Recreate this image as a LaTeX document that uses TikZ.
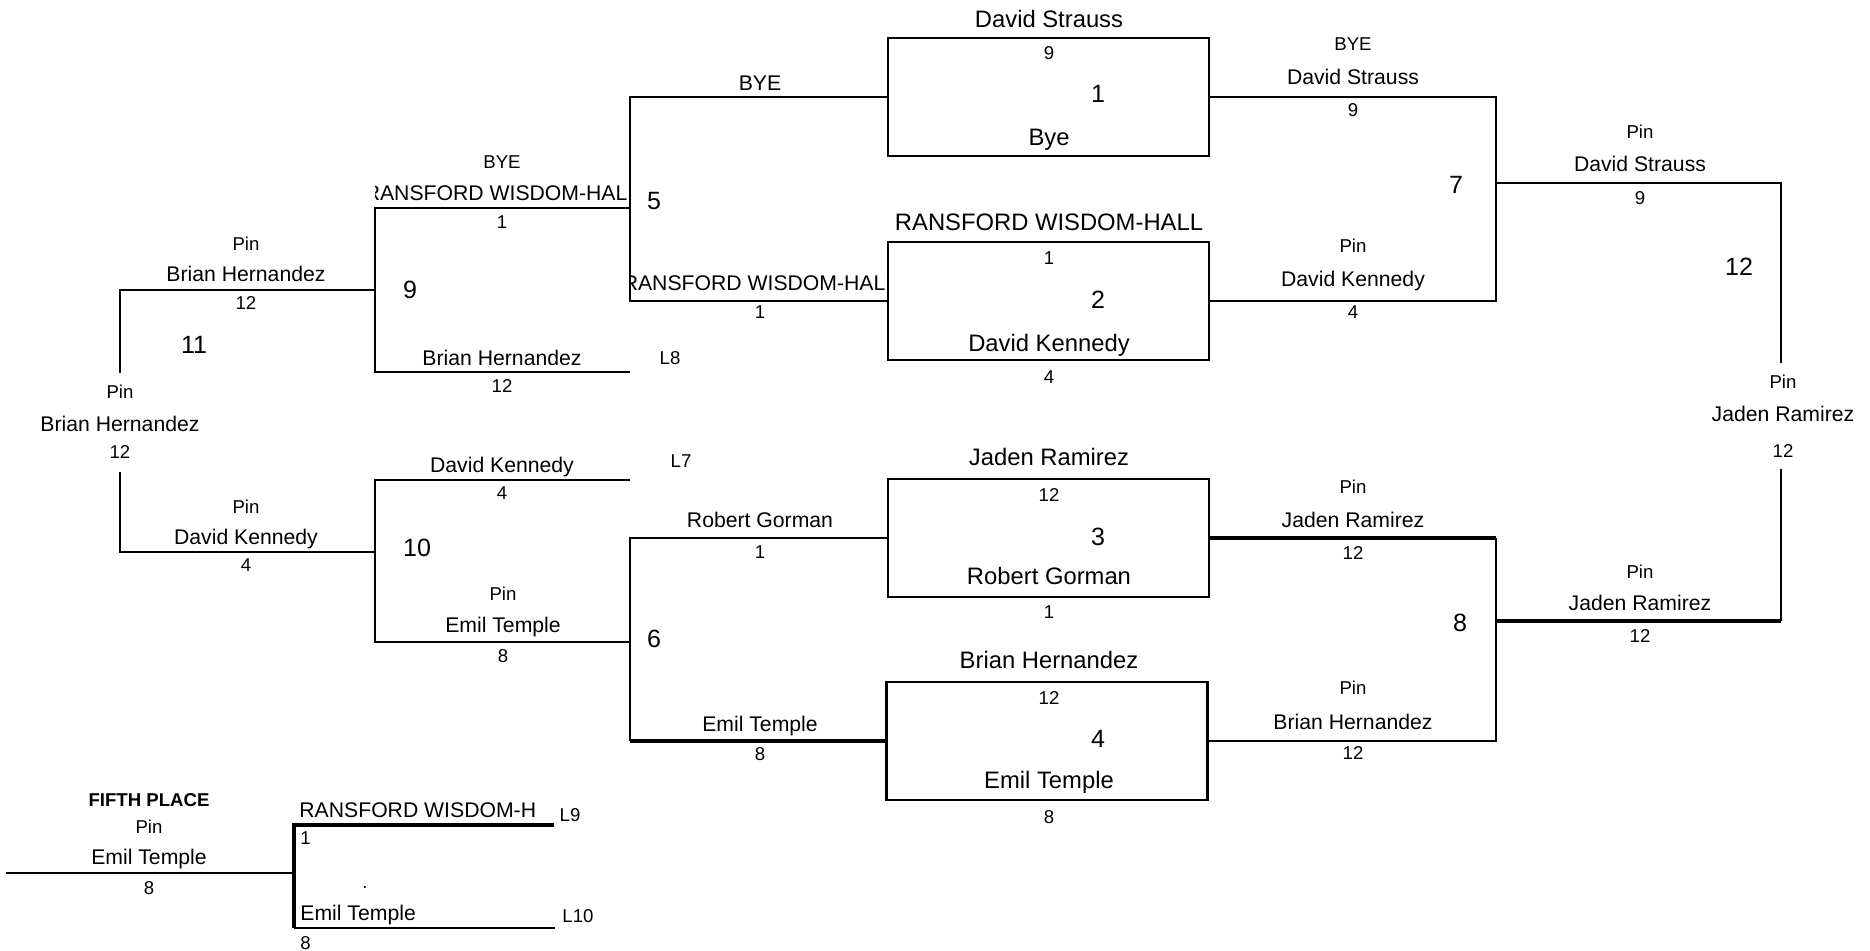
\documentclass[tikz,border=0pt]{standalone}
\usepackage{fontspec}
\setmainfont{Liberation Sans}

\begin{document}
\begin{tikzpicture}[
    x=0.5pt, y=-0.5pt,
    lbl/.style={inner sep=0pt, anchor=center, text depth=0pt},
    small/.style={lbl, font=\fontsize{9.3}{11}\selectfont, text height=6.7pt},
    wname/.style={lbl, font=\fontsize{10.6}{12}\selectfont, text height=7.6pt},
    boxname/.style={lbl, font=\fontsize{11.9}{14}\selectfont, text height=8.5pt},
    num/.style={lbl, font=\fontsize{12.5}{15}\selectfont, text height=9pt},
    matchbox/.style={rectangle, draw, line width=1.3pt, minimum width=160.5pt, minimum height=59pt, inner sep=0pt},
    bline/.style={line width=1.4pt},
    heavy/.style={line width=1.7pt}
]
\useasboundingbox (0,0) rectangle (1870,951);

% Championship boxes
\node[matchbox] (box1) at (1048.5,97) {};
\node[matchbox] (box2) at (1048.5,301) {};
\node[matchbox] (box3) at (1048.5,538) {};
\node[matchbox] (box4) at (1047,741) {};

% Box contents
\node[boxname] (b1top) at (1049,19) {David Strauss};
\node[small] (b1s1) at (1049,53) {9};
\node[num] (b1num) at (1098,94) {1};
\node[boxname] (b1bot) at (1049,137) {Bye};

\node[boxname] (b2top) at (1049,222) {RANSFORD WISDOM-HALL};
\node[small] (b2s1) at (1049,258) {1};
\node[num] (b2num) at (1098,300) {2};
\node[boxname] (b2bot) at (1049,343) {David Kennedy};
\node[small] (b2s2) at (1049,377) {4};

\node[boxname] (b3top) at (1049,457) {Jaden Ramirez};
\node[small] (b3s1) at (1049,495) {12};
\node[num] (b3num) at (1098,537) {3};
\node[boxname] (b3bot) at (1049,576) {Robert Gorman};
\node[small] (b3s2) at (1049,612) {1};

\node[boxname] (b4top) at (1049,660) {Brian Hernandez};
\node[small] (b4s1) at (1049,698) {12};
\node[num] (b4num) at (1098,739) {4};
\node[boxname] (b4bot) at (1049,780) {Emil Temple};
\node[small] (b4s2) at (1049,817) {8};

% Match 5 and 6 (left of boxes)
\draw[bline] (box1.west) -- (630,97) -- (630,301) -- (box2.west);
\draw[bline] (box3.west) -- (630,538) -- (630,741);
\draw[heavy] (630,741) -- (box4.west);

\node[wname] (m5top) at (760,83) {BYE};
\begin{scope}
  \clip (630,260) rectangle (886,298);
  \node[wname] (m5bot) at (760,283) {RANSFORD WISDOM-HALL};
\end{scope}
\node[small] (m5seed) at (760,312) {1};
\node[num] (m5num) at (654,201) {5};

\node[wname] (m6top) at (760,520) {Robert Gorman};
\node[small] (m6s1) at (760,552) {1};
\node[num] (m6num) at (654,639) {6};
\node[wname] (m6bot) at (760,724) {Emil Temple};
\node[small] (m6s2) at (760,754) {8};

% Match 7 and 8 (right of boxes)
\draw[bline] (box1.east) -- (1496,97) -- (1496,301) -- (box2.east);
\draw[bline] (1496,183) -- (1781,183) -- (1781,363);
\draw[heavy] (box3.east) -- (1496,538);
\draw[bline] (1496,538) -- (1496,741) -- (box4.east);
\draw[heavy] (1496,621) -- (1781,621);
\draw[bline] (1781,621) -- (1781,469);

\node[small] (m7r1) at (1353,44) {BYE};
\node[wname] (m7n1) at (1353,77) {David Strauss};
\node[small] (m7s1) at (1353,110) {9};
\node[small] (m7r2) at (1353,246) {Pin};
\node[wname] (m7n2) at (1353,279) {David Kennedy};
\node[small] (m7s2) at (1353,312) {4};
\node[num] (m7num) at (1456,185) {7};
\node[small] (m7wr) at (1640,132) {Pin};
\node[wname] (m7wn) at (1640,164) {David Strauss};
\node[small] (m7ws) at (1640,198) {9};

\node[small] (m8r1) at (1353,487) {Pin};
\node[wname] (m8n1) at (1353,520) {Jaden Ramirez};
\node[small] (m8s1) at (1353,553) {12};
\node[small] (m8r2) at (1353,688) {Pin};
\node[wname] (m8n2) at (1353,722) {Brian Hernandez};
\node[small] (m8s2) at (1353,753) {12};
\node[num] (m8num) at (1460,623) {8};
\node[small] (m8wr) at (1640,572) {Pin};
\node[wname] (m8wn) at (1640,603) {Jaden Ramirez};
\node[small] (m8ws) at (1640,636) {12};

% Final
\node[num] (m12num) at (1739,267) {12};
\node[small] (m12r) at (1783,382) {Pin};
\node[wname] (m12n) at (1783,414) {Jaden Ramirez};
\node[small] (m12s) at (1783,451) {12};

% Consolation side
\draw[bline] (630,208) -- (375,208) -- (375,372) -- (630,372);
\draw[bline] (630,480) -- (375,480) -- (375,642) -- (630,642);
\draw[bline] (375,290) -- (120,290) -- (120,373);
\draw[bline] (120,472) -- (120,552) -- (375,552);

\node[small] (m9r1) at (502,162) {BYE};
\begin{scope}
  \clip (375,170) rectangle (629,206);
  \node[wname] (m9n1) at (502,193) {RANSFORD WISDOM-HALL};
\end{scope}
\node[small] (m9s1) at (502,222) {1};
\node[num] (m9num) at (410,290) {9};
\node[wname] (m9n2) at (502,358) {Brian Hernandez};
\node[small] (m9s2) at (502,386) {12};
\node[small] (m9l) at (670,358) {L8};

\node[wname] (m10n1) at (502,465) {David Kennedy};
\node[small] (m10s1) at (502,493) {4};
\node[small] (m10l) at (681,461) {L7};
\node[num] (m10num) at (417,548) {10};
\node[small] (m10r2) at (503,594) {Pin};
\node[wname] (m10n2) at (503,625) {Emil Temple};
\node[small] (m10s2) at (503,656) {8};

\node[small] (m11r1) at (246,244) {Pin};
\node[wname] (m11n1) at (246,274) {Brian Hernandez};
\node[small] (m11s1) at (246,303) {12};
\node[num] (m11num) at (194,345) {11};
\node[small] (m11wr) at (120,392) {Pin};
\node[wname] (m11wn) at (120,424) {Brian Hernandez};
\node[small] (m11ws) at (120,452) {12};
\node[small] (m11r2) at (246,507) {Pin};
\node[wname] (m11n2) at (246,537) {David Kennedy};
\node[small] (m11s2) at (246,565) {4};

% Fifth place
\draw[bline] (6,873) -- (294,873);
\draw[heavy] (554,825) -- (294,825) -- (294,928);
\draw[bline] (294,928) -- (555,928);

\node[small, font=\fontsize{9.3}{11}\selectfont\bfseries] (fifth) at (149,800) {FIFTH PLACE};
\node[small] (m13r) at (149,827) {Pin};
\node[wname] (m13n) at (149,857) {Emil Temple};
\node[small] (m13s) at (149,888) {8};
\node[wname, anchor=west] (m13n1) at (299,810) {RANSFORD WISDOM-H};
\node[small] (m13l1) at (570,815) {L9};
\node[small, anchor=west] (m13s1) at (300,838) {1};
\node[small] (m13dot) at (365,882) {.};
\node[wname, anchor=west] (m13n2) at (300,913) {Emil Temple};
\node[small] (m13l2) at (578,916) {L10};
\node[small, anchor=west] (m13s2) at (300,943) {8};

\end{tikzpicture}
\end{document}
